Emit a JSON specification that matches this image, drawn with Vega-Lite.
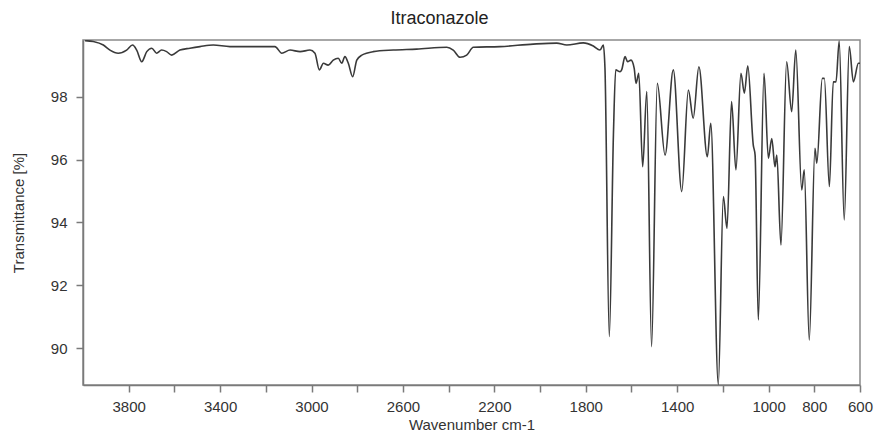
{
  "$schema": "https://vega.github.io/schema/vega-lite/v6.json",
  "width": 777,
  "height": 345,
  "autosize": "none",
  "padding": {"left": 83, "top": 40, "right": 14, "bottom": 52},
  "background": "white",
  "title": {
    "text": "Itraconazole",
    "fontSize": 18,
    "font": "Liberation Sans",
    "fontWeight": "normal",
    "color": "#222",
    "anchor": "middle",
    "dx": -32,
    "offset": 12
  },
  "config": {
    "view": {"stroke": "#8a8a8a", "strokeWidth": 1.5},
    "font": "Liberation Sans",
    "axis": {
      "grid": false,
      "domainColor": "#7a7a7a",
      "domainWidth": 1.5,
      "tickColor": "#7a7a7a",
      "tickWidth": 1.5,
      "labelFont": "Liberation Sans",
      "labelFontSize": 15,
      "labelColor": "#333",
      "titleFont": "Liberation Sans",
      "titleFontSize": 15,
      "titleFontWeight": "normal",
      "titleColor": "#333"
    }
  },
  "data": {
    "values": [
      {"w": 3991, "t": 99.78}, {"w": 3955, "t": 99.75}, {"w": 3911, "t": 99.64}, {"w": 3882, "t": 99.48},
      {"w": 3846, "t": 99.38}, {"w": 3809, "t": 99.48}, {"w": 3783, "t": 99.64}, {"w": 3765, "t": 99.48},
      {"w": 3743, "t": 99.11}, {"w": 3721, "t": 99.43}, {"w": 3699, "t": 99.54}, {"w": 3678, "t": 99.38},
      {"w": 3656, "t": 99.48}, {"w": 3634, "t": 99.43}, {"w": 3612, "t": 99.32}, {"w": 3576, "t": 99.48},
      {"w": 3532, "t": 99.54}, {"w": 3488, "t": 99.59}, {"w": 3430, "t": 99.64}, {"w": 3357, "t": 99.59},
      {"w": 3284, "t": 99.59}, {"w": 3211, "t": 99.59}, {"w": 3160, "t": 99.59}, {"w": 3130, "t": 99.38},
      {"w": 3094, "t": 99.48}, {"w": 3050, "t": 99.43}, {"w": 3007, "t": 99.48}, {"w": 2985, "t": 99.38},
      {"w": 2966, "t": 98.85}, {"w": 2948, "t": 99.06}, {"w": 2927, "t": 99.0}, {"w": 2905, "t": 99.16},
      {"w": 2883, "t": 99.22}, {"w": 2868, "t": 99.06}, {"w": 2854, "t": 99.27}, {"w": 2839, "t": 99.06},
      {"w": 2820, "t": 98.63}, {"w": 2802, "t": 99.16}, {"w": 2780, "t": 99.32}, {"w": 2730, "t": 99.43},
      {"w": 2642, "t": 99.48}, {"w": 2540, "t": 99.51}, {"w": 2408, "t": 99.57}, {"w": 2380, "t": 99.48},
      {"w": 2350, "t": 99.25}, {"w": 2321, "t": 99.32}, {"w": 2292, "t": 99.57}, {"w": 2175, "t": 99.59},
      {"w": 2030, "t": 99.67}, {"w": 1927, "t": 99.7}, {"w": 1883, "t": 99.64}, {"w": 1811, "t": 99.71},
      {"w": 1767, "t": 99.61}, {"w": 1738, "t": 99.48}, {"w": 1723, "t": 99.64}, {"w": 1716, "t": 98.91},
      {"w": 1697, "t": 90.37}, {"w": 1679, "t": 96.78}, {"w": 1669, "t": 98.85}, {"w": 1650, "t": 98.79},
      {"w": 1643, "t": 98.85}, {"w": 1628, "t": 99.27}, {"w": 1617, "t": 99.11}, {"w": 1602, "t": 99.16},
      {"w": 1588, "t": 98.9}, {"w": 1580, "t": 98.42}, {"w": 1568, "t": 98.74}, {"w": 1551, "t": 95.77},
      {"w": 1533, "t": 98.16}, {"w": 1512, "t": 90.05}, {"w": 1487, "t": 98.42}, {"w": 1453, "t": 96.14},
      {"w": 1417, "t": 98.85}, {"w": 1380, "t": 94.98}, {"w": 1351, "t": 98.21}, {"w": 1330, "t": 97.31},
      {"w": 1305, "t": 98.95}, {"w": 1268, "t": 96.09}, {"w": 1253, "t": 97.15}, {"w": 1220, "t": 88.85},
      {"w": 1198, "t": 94.82}, {"w": 1182, "t": 93.81}, {"w": 1162, "t": 97.84}, {"w": 1143, "t": 95.67},
      {"w": 1121, "t": 98.74}, {"w": 1106, "t": 98.11}, {"w": 1091, "t": 98.98}, {"w": 1067, "t": 96.46},
      {"w": 1059, "t": 96.14}, {"w": 1045, "t": 90.9}, {"w": 1020, "t": 98.74}, {"w": 1001, "t": 96.04},
      {"w": 986, "t": 96.67}, {"w": 972, "t": 95.77}, {"w": 964, "t": 96.14}, {"w": 946, "t": 93.28},
      {"w": 921, "t": 99.11}, {"w": 899, "t": 97.52}, {"w": 881, "t": 99.48}, {"w": 855, "t": 95.03},
      {"w": 844, "t": 95.67}, {"w": 822, "t": 90.26}, {"w": 797, "t": 96.36}, {"w": 789, "t": 95.88},
      {"w": 765, "t": 98.58}, {"w": 756, "t": 98.58}, {"w": 734, "t": 95.14}, {"w": 717, "t": 98.47},
      {"w": 705, "t": 98.47}, {"w": 691, "t": 99.77}, {"w": 669, "t": 94.08}, {"w": 647, "t": 99.59},
      {"w": 629, "t": 98.47}, {"w": 607, "t": 99.06}, {"w": 600, "t": 99.06}
    ]
  },
  "mark": {"type": "line", "color": "#3a3a3a", "strokeWidth": 1.6, "interpolate": "monotone", "clip": true},
  "encoding": {
    "x": {
      "field": "w",
      "type": "quantitative",
      "scale": {"domain": [600, 4000], "reverse": true, "nice": false, "zero": false},
      "axis": {
        "title": "Wavenumber cm-1",
        "values": [3800, 3600, 3400, 3200, 3000, 2800, 2600, 2400, 2200, 2000, 1800, 1600, 1400, 1200, 1000, 800, 600],
        "labelExpr": "indexof([3800,3400,3000,2600,2200,1800,1400,1000,800,600], datum.value) >= 0 ? datum.label : ''",
        "format": "d",
        "tickSize": 7,
        "labelPadding": 7,
        "titlePadding": 3,
        "labelOverlap": false,
        "labelFlush": false
      }
    },
    "y": {
      "field": "t",
      "type": "quantitative",
      "scale": {"domain": [88.83, 99.8], "nice": false, "zero": false},
      "axis": {
        "title": "Transmittance [%]",
        "values": [90, 92, 94, 96, 98],
        "format": "d",
        "tickSize": 7,
        "labelPadding": 9,
        "titlePadding": 24
      }
    },
    "order": {"field": "w", "sort": "descending"}
  }
}
